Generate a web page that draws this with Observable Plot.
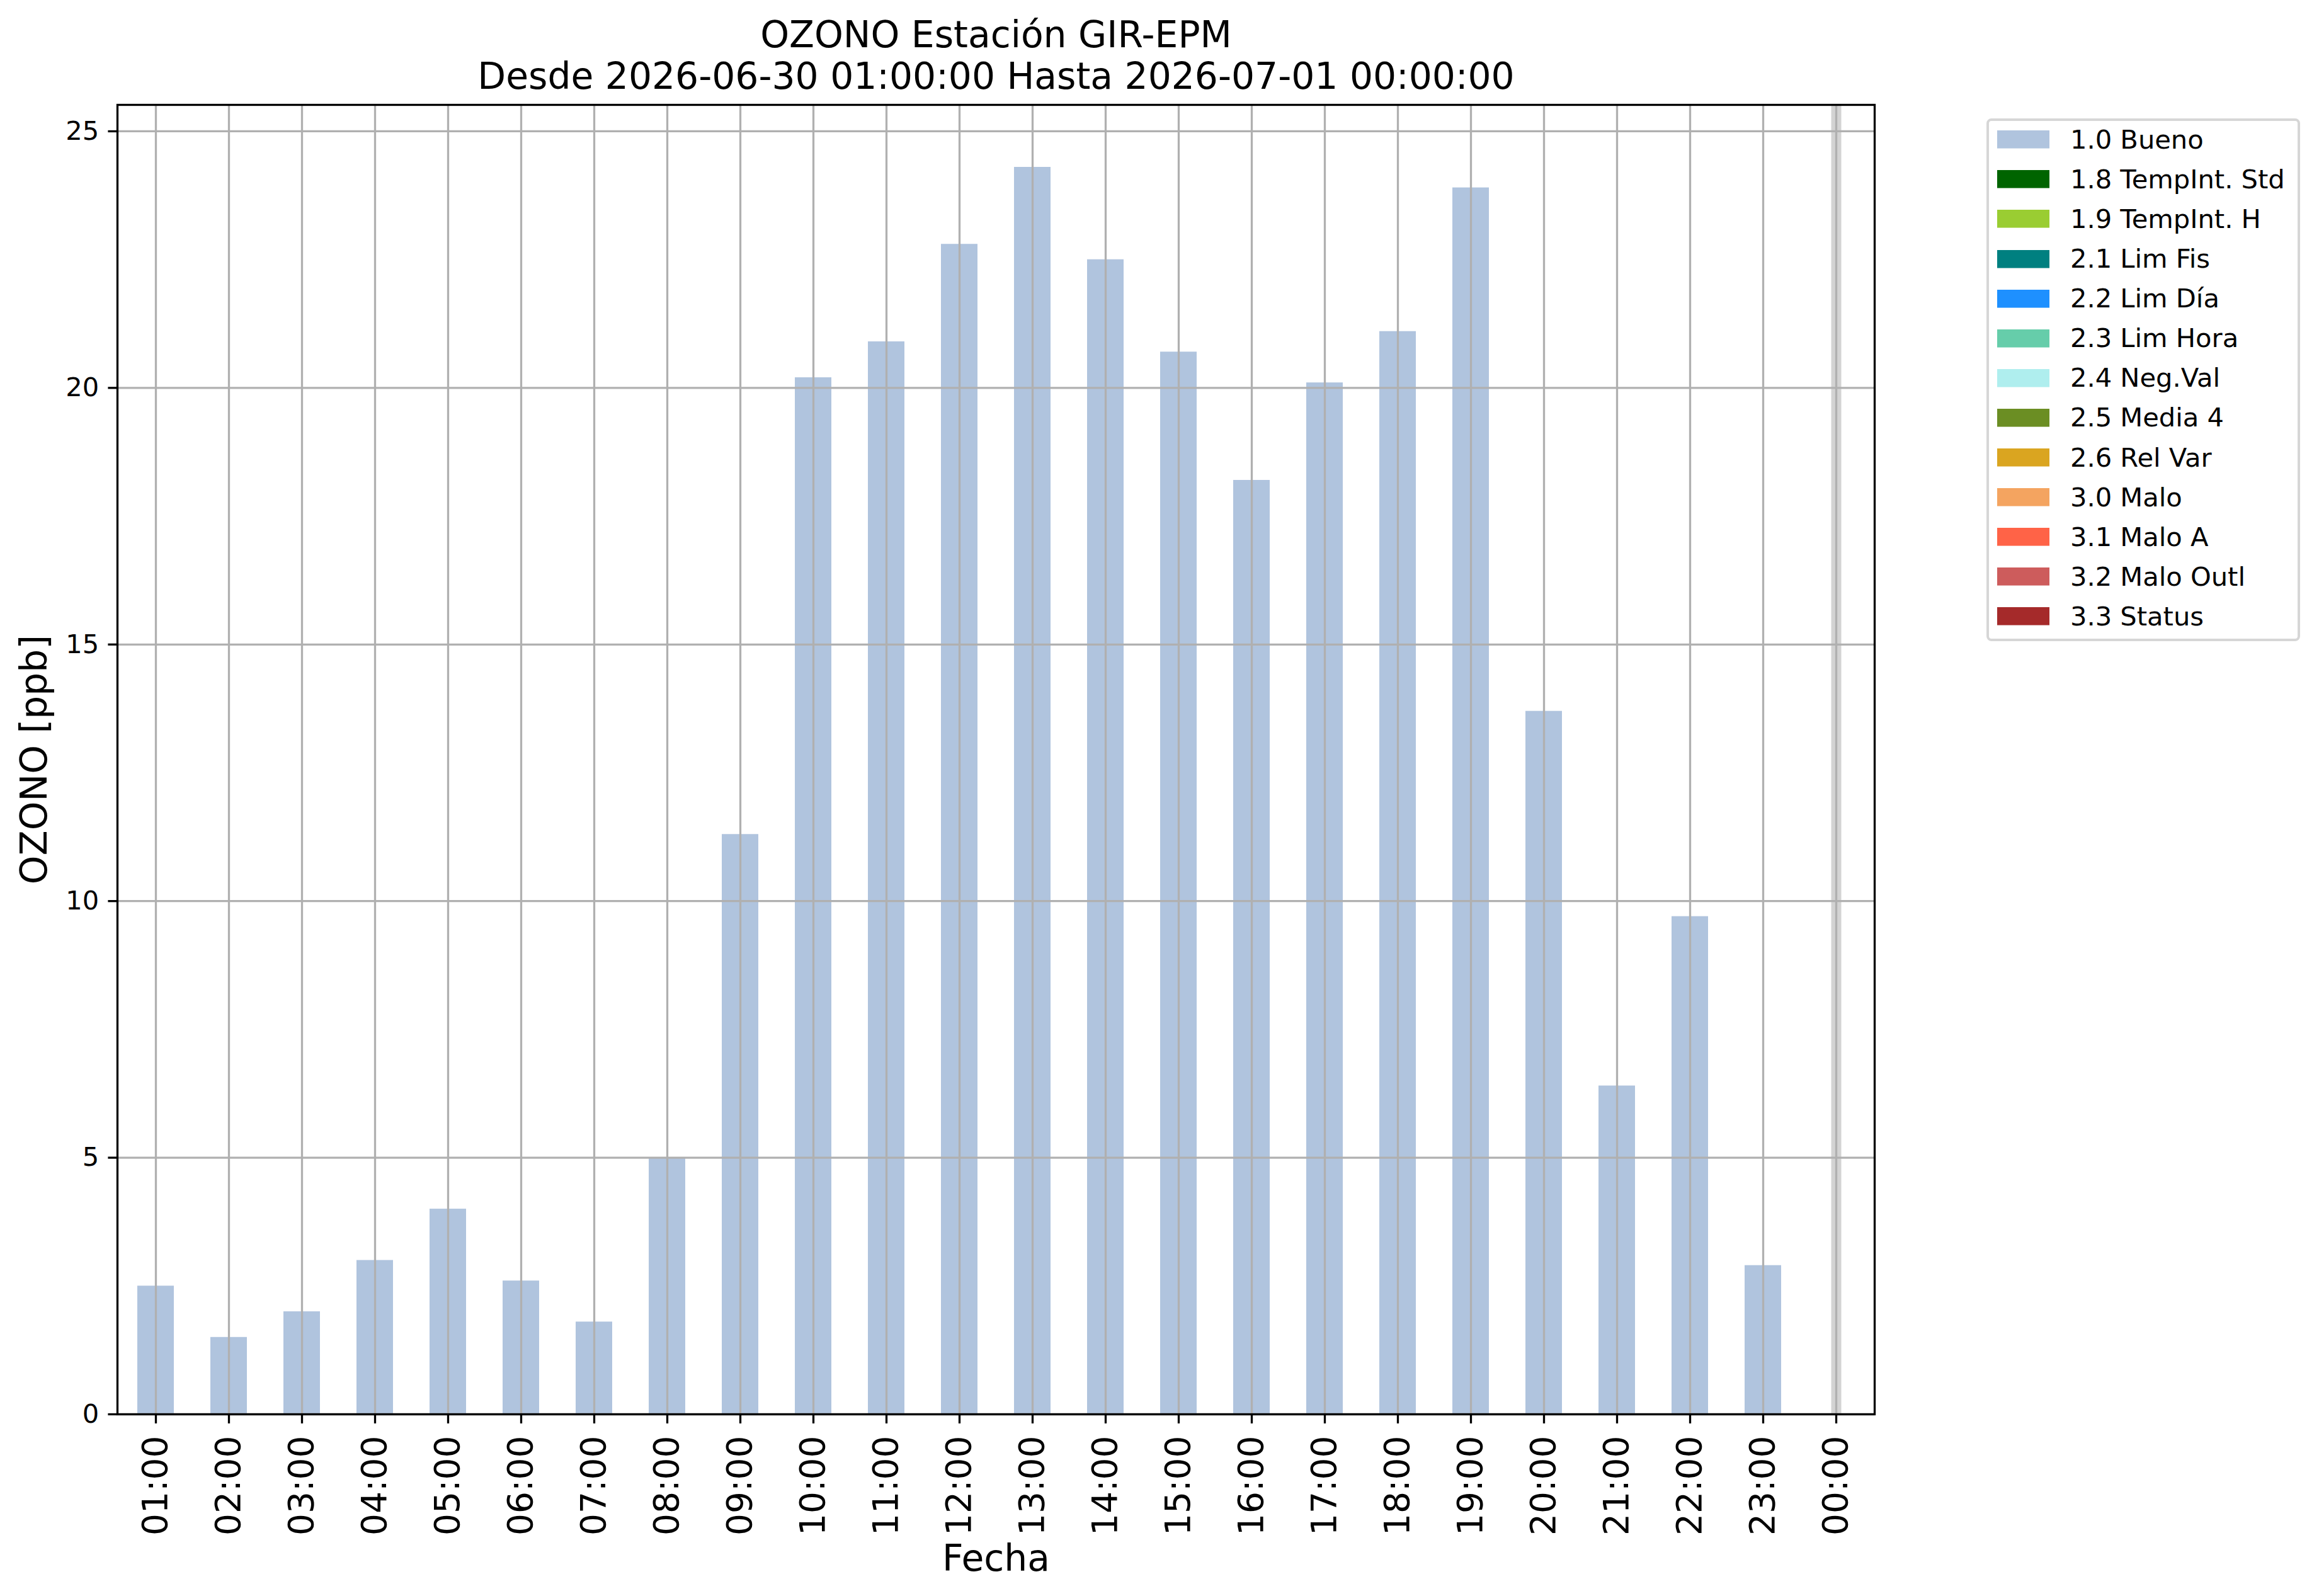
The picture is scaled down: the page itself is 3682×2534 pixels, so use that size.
<!DOCTYPE html>
<html>
<head>
<meta charset="utf-8">
<script src="https://cdn.jsdelivr.net/npm/d3@7"></script>
<script src="https://cdn.jsdelivr.net/npm/@observablehq/plot@0.6"></script>
<style>
  html, body { margin: 0; padding: 0; background: #fff; }
  #wrap { position: relative; width: 3682px; height: 2534px; overflow: hidden; background: #fff; }
  #wrap > svg { position: absolute; left: 0; top: 0; }
  #legendBox {
    position: absolute; left: 3154px; top: 188px; width: 498px; height: 830px;
    box-sizing: border-box; border: 4px solid #d6d6d6; border-radius: 8px; background: #fff;
  }
  #legendBox .lg-swatches {
    position: absolute; left: 13px; top: -2px; margin: 0;
    font-family: "DejaVu Sans"; font-size: 41.6px; color: #000;
  }
  #legendBox .lg-swatch { height: 63.1px; display: flex; align-items: center; padding: 0; margin: 0; }
  #legendBox .lg-swatch > svg { margin-right: 33px; }
  #legendBox .lg-swatch-label { line-height: 1; overflow: visible; }
</style>
</head>
<body>
<div id="wrap"><div id="legendBox"></div></div>
<script>
// ---- data ----
const hours = ["01:00","02:00","03:00","04:00","05:00","06:00","07:00","08:00","09:00","10:00","11:00","12:00",
               "13:00","14:00","15:00","16:00","17:00","18:00","19:00","20:00","21:00","22:00","23:00","00:00"];
const ozone = [2.5, 1.5, 2.0, 3.0, 4.0, 2.6, 1.8, 5.0, 11.3, 20.2, 20.9, 22.8,
               24.3, 22.5, 20.7, 18.2, 20.1, 21.1, 23.9, 13.7, 6.4, 9.7, 2.9, null];
const missingHours = ["00:00"];
const yTicks = [0, 5, 10, 15, 20, 25];
const legendLabels = ["1.0 Bueno","1.8 TempInt. Std","1.9 TempInt. H","2.1 Lim Fis","2.2 Lim Día","2.3 Lim Hora",
                      "2.4 Neg.Val","2.5 Media 4","2.6 Rel Var","3.0 Malo","3.1 Malo A","3.2 Malo Outl","3.3 Status"];
const legendColors = ["#b0c4de","#006400","#9acd32","#008080","#1e90ff","#66cdaa",
                      "#afeeee","#6b8e23","#daa520","#f4a460","#ff6347","#cd5c5c","#a52a2a"];
const titleLines = ["OZONO Estación GIR-EPM", "Desde 2026-06-30 01:00:00 Hasta 2026-07-01 00:00:00"];
const xLabel = "Fecha";
const yLabel = "OZONO [ppb]";

const rows = hours.map((h, i) => ({hour: h, value: ozone[i]})).filter(d => d.value != null);
const yMax = d3.max(ozone) * 1.05;

const mL = 186, mR = 706, mT = 166, mB = 289;
const grid = "#b0b0b0";

const chart = Plot.plot({
  width: 3682, height: 2534,
  marginLeft: mL, marginRight: mR, marginTop: mT, marginBottom: mB,
  style: {fontFamily: '"DejaVu Sans"', background: "transparent", overflow: "visible", color: "black"},
  x: {type: "band", domain: hours, paddingInner: 0.5, paddingOuter: 0.25, align: 0.5},
  y: {domain: [0, yMax]},
  marks: [
    Plot.ruleX(missingHours, {x: d => d, stroke: "#d3d3d3", strokeWidth: 16}),
    Plot.barY(rows, {x: "hour", y: "value", fill: "#b0c4de"}),
    Plot.gridX({stroke: grid, strokeOpacity: 1, strokeWidth: 3.3}),
    Plot.gridY(yTicks, {stroke: grid, strokeOpacity: 1, strokeWidth: 3.3}),
    Plot.frame({stroke: "black", strokeWidth: 3.3}),
    Plot.axisY(yTicks, {tickSize: 14.6, tickPadding: 14.6, fontSize: 41.6, strokeWidth: 3.3, label: null, tickFormat: d3.format("d")}),
    Plot.axisX({tickSize: 15, tickPadding: 19, fontSize: 55, tickRotate: -90, strokeWidth: 3.3, label: null}),
    Plot.text([titleLines[0]], {text: d => d, frameAnchor: "top", textAnchor: "middle", lineAnchor: "bottom", dy: -92, fontSize: 58.3}),
    Plot.text([titleLines[1]], {text: d => d, frameAnchor: "top", textAnchor: "middle", lineAnchor: "bottom", dy: -26, fontSize: 58.3}),
    Plot.text([xLabel], {text: d => d, frameAnchor: "bottom", textAnchor: "middle", lineAnchor: "bottom", dy: 248, fontSize: 58.3}),
    Plot.text([yLabel], {text: d => d, frameAnchor: "left", textAnchor: "middle", lineAnchor: "bottom", rotate: -90, dx: -113, fontSize: 58.3})
  ]
});
document.getElementById("wrap").prepend(chart);

const legend = Plot.legend({
  color: {type: "ordinal", domain: legendLabels, range: legendColors},
  columns: 1, swatchWidth: 83, swatchHeight: 28.6, className: "lg"
});
document.getElementById("legendBox").appendChild(legend);
</script>
</body>
</html>
